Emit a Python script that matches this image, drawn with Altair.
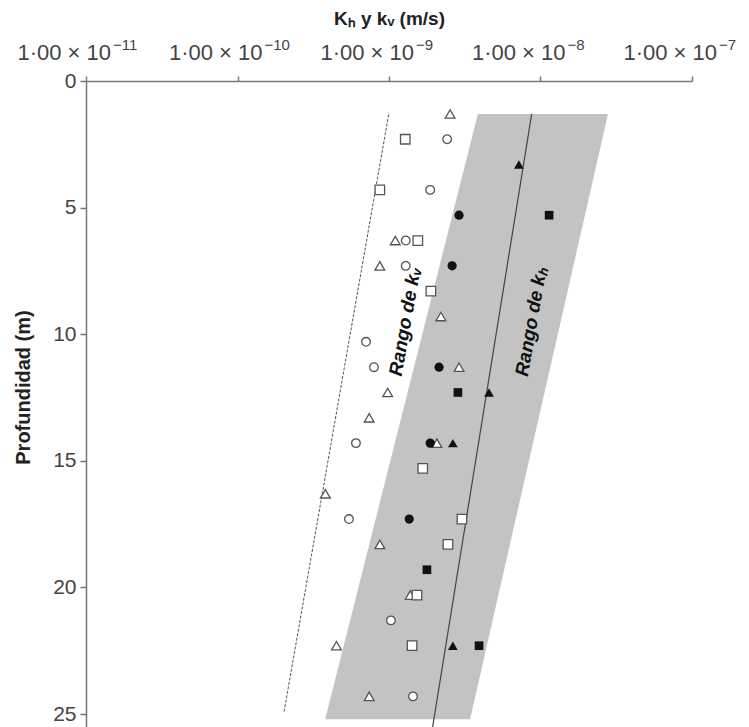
import altair as alt
import pandas as pd

# ---- axis ticks ----
tick_values = [1e-11, 1e-10, 1e-9, 1e-8, 1e-7]
tick_bases = ["1·00 × 10", "1·00 × 10", "1·00 × 10", "1·00 × 10", "1·00 × 10"]
tick_exps = ["−11", "−10", "−9", "−8", "−7"]
y_ticks = [0, 5, 10, 15, 20, 25]

# ---- measured points (k in m/s, depth in m) ----
ot_k = [2.53e-9, 1.10e-9, 8.7e-10, 2.2e-9, 2.9e-9, 9.8e-10, 7.4e-10, 2.07e-9, 3.8e-10, 8.7e-10, 1.38e-9, 4.5e-10, 7.4e-10]
ot_z = [1.3, 6.3, 7.3, 9.3, 11.3, 12.3, 13.3, 14.3, 16.3, 18.3, 20.3, 22.3, 24.3]
oc_k = [2.42e-9, 1.87e-9, 1.29e-9, 1.29e-9, 7.05e-10, 7.96e-10, 6.05e-10, 5.44e-10, 1.03e-9, 1.44e-9]
oc_z = [2.3, 4.3, 6.3, 7.3, 10.3, 11.3, 14.3, 17.3, 21.3, 24.3]
os_k = [1.28e-9, 8.7e-10, 1.55e-9, 1.89e-9, 1.67e-9, 3.03e-9, 2.45e-9, 1.53e-9, 1.42e-9]
os_z = [2.3, 4.3, 6.3, 8.3, 15.3, 17.3, 18.3, 20.3, 22.3]
fc_k = [2.9e-9, 2.61e-9, 2.14e-9, 1.87e-9, 1.36e-9]
fc_z = [5.3, 7.3, 11.3, 14.3, 17.3]
fs_k = [1.14e-8, 2.85e-9, 1.78e-9, 3.93e-9]
fs_z = [5.3, 12.3, 19.3, 22.3]
ft_k = [7.2e-9, 4.57e-9, 2.64e-9, 2.64e-9]
ft_z = [3.3, 12.3, 14.3, 22.3]

# ---- ranges ----
band_z = [1.3, 25.2]
band_left = [3.86e-9, 3.79e-10]
band_right = [2.79e-8, 3.43e-9]
kv_z = [1.25, 24.9]
kv_k = [1.0e-9, 2.03e-10]
kh_z = [1.3, 25.6]
kh_k = [8.75e-9, 1.93e-9]

labels_text = ["Rango de kᵥ", "Rango de kₕ"]
labels_k = [1.28e-9, 8.7e-9]
labels_z = [9.5, 9.5]

FONT = "Liberation Sans"
xscale = alt.Scale(type="log", domain=[1e-11, 1e-7])
yscale = alt.Scale(domain=[0, 25.51], reverse=True, nice=False, zero=False)

yaxis = alt.Axis(values=y_ticks, title="Profundidad (m)", grid=False, tickSize=6,
                 labelFontSize=21, labelFont=FONT, labelColor="#444", labelPadding=4,
                 domainColor="#777", tickColor="#777", domainWidth=1.5, tickWidth=1.5,
                 titleFontSize=20, titleFont=FONT, titleFontWeight="bold", titleColor="#222",
                 titleX=-63, titleY=306, titleAngle=270, titleBaseline="middle",
                 titleAlign="center")
xaxis = alt.Axis(orient="top", values=tick_values, labels=False,
                 title="Kₕ y kᵥ (m/s)", grid=False, tickSize=5,
                 domainColor="#777", tickColor="#777", domainWidth=1.5, tickWidth=1.5,
                 titleFontSize=19, titleFont=FONT, titleFontWeight="bold", titleColor="#222",
                 titleX=303, titleY=-63, titleBaseline="middle", titleAlign="center")


def X(field):
    return alt.X(field, type="quantitative", scale=xscale, axis=xaxis, title="Kₕ y kᵥ (m/s)")


def Y(field):
    return alt.Y(field, type="quantitative", scale=yscale, axis=yaxis, title="Profundidad (m)")


band_df = pd.DataFrame({"z": band_z, "k": band_left, "k2": band_right})
band = alt.Chart(band_df).mark_area(orient="horizontal", color="#c3c3c3").encode(
    y=Y("z"), x=X("k"), x2="k2:Q")

kv_df = pd.DataFrame({"z": kv_z, "k": kv_k})
kv_line = alt.Chart(kv_df).mark_line(color="#555", strokeWidth=1, strokeDash=[3, 1.5], clip=True).encode(
    x=X("k"), y=Y("z"))
kh_df = pd.DataFrame({"z": kh_z, "k": kh_k})
kh_line = alt.Chart(kh_df).mark_line(color="#444", strokeWidth=1.2, clip=True).encode(
    x=X("k"), y=Y("z"))

lab_df = pd.DataFrame({"t": labels_text, "k": labels_k, "z": labels_z})
labels = alt.Chart(lab_df).mark_text(angle=280, font=FONT, fontSize=19, fontStyle="italic",
                                     fontWeight="bold", color="#111").encode(
    x=X("k"), y=Y("z"), text="t:N")

# tick labels of the top axis: base text and superscript exponent
tick_df = pd.DataFrame({"k": tick_values, "base": tick_bases, "exp": tick_exps})
tick_base = alt.Chart(tick_df).mark_text(align="right", baseline="alphabetic", dx=25,
                                         font=FONT, fontSize=22, color="#444").encode(
    x=X("k"), y=alt.value(-21), text="base:N")
tick_exp = alt.Chart(tick_df).mark_text(align="left", baseline="alphabetic", dx=27,
                                        font=FONT, fontSize=15, color="#444").encode(
    x=X("k"), y=alt.value(-31), text="exp:N")


def pts(ks, zs, shape, filled, size):
    df = pd.DataFrame({"k": ks, "z": zs})
    if filled:
        m = alt.Chart(df).mark_point(shape=shape, filled=True, color="#111", size=size, opacity=1)
    else:
        m = alt.Chart(df).mark_point(shape=shape, fill="white", fillOpacity=1, stroke="#555",
                                     strokeWidth=1.3, size=size, opacity=1)
    return m.encode(x=X("k"), y=Y("z"))


layers = [band, kv_line, kh_line, labels, tick_base, tick_exp,
          pts(ot_k, ot_z, "triangle-up", False, 95),
          pts(oc_k, oc_z, "circle", False, 75),
          pts(os_k, os_z, "square", False, 90),
          pts(fc_k, fc_z, "circle", True, 85),
          pts(fs_k, fs_z, "square", True, 75),
          pts(ft_k, ft_z, "triangle-up", True, 95)]

chart = alt.layer(*layers).properties(
    width=606, height=646,
    autosize=alt.AutoSizeParams(type="none"),
    padding={"left": 78, "top": 73, "right": 49, "bottom": 0},
).configure_view(stroke=None)

chart.save("out.html", embed_options={"renderer": "svg", "actions": False})
